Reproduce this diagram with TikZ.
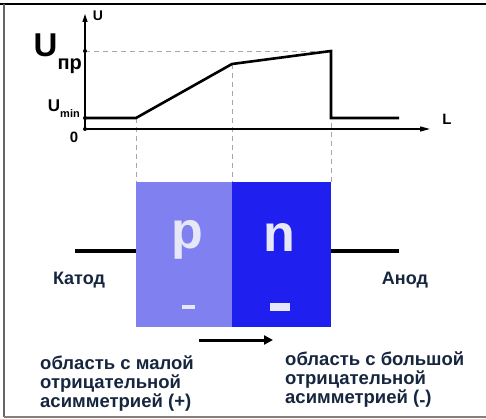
\documentclass[tikz,border=0pt]{standalone}
\usepackage{fontspec}
\setmainfont{Liberation Sans}
\usetikzlibrary{arrows.meta}
\definecolor{txt}{HTML}{16263F}
\definecolor{pcol}{HTML}{8080F0}
\definecolor{ncol}{HTML}{1F1FEF}
\definecolor{lett}{HTML}{E6E8F8}
\tikzset{
  lbl/.style={inner sep=0pt},
  bottomtxt/.style={font=\bfseries\fontsize{18.5}{19}\selectfont, text=txt, align=left, anchor=base west, inner sep=0pt},
  curve/.style={line width=2.6pt, line join=miter},
  guide/.style={gray!70, line width=0.6pt, dash pattern=on 5pt off 4pt},
  wire/.style={line width=3.5pt},
  dotm/.style={circle, fill=black, inner sep=0pt, minimum size=4pt},
}
\begin{document}
\begin{tikzpicture}[x=1pt,y=-1pt]
\useasboundingbox (0,0) rectangle (486,419);
\fill[white] (0,0) rectangle (486,419);
% frame
\draw[line width=1.5pt] (0,4) -- (486,4);
\draw[line width=1.2pt, gray!80!black] (4,4) -- (4,417);
\draw[line width=1.2pt, gray] (4,417) -- (486,417);
% named points
\coordinate (O) at (85,129);
\coordinate (ytop) at (85,14);
\coordinate (xend) at (430,129);
\coordinate (a) at (85,118);
\coordinate (b) at (136,118);
\coordinate (c) at (232,64);
\coordinate (d) at (331,51);
\coordinate (e) at (331,118);
\coordinate (f) at (399,118);
\coordinate (yu) at (85,51);
% guides
\draw[guide] (yu) -- (d);
\draw[guide] (b) -- (136,182);
\draw[guide] (c) -- (232,182);
\draw[guide] (d) -- (331,182);
% axes
\draw[line width=1.3pt, -{Triangle[length=8pt,width=5pt]}] (O) -- (ytop);
\draw[line width=1.3pt, -{Triangle[length=10pt,width=5pt]}] (O) -- (xend);
\node[dotm] at (yu) {};
\node[dotm] at (a) {};
\node[dotm] at (O) {};
% curve
\draw[curve] (a) -- (b) -- (c) -- (d) -- (e) -- (f);
% labels
\node[lbl, font=\bfseries\fontsize{14}{16}\selectfont] (uax) at (98,16) {U};
\node[lbl, font=\bfseries\fontsize{15}{16}\selectfont] (lax) at (447,119) {L};
\node[lbl, font=\bfseries\fontsize{15}{16}\selectfont] (zero) at (74,137) {0};
\node[inner sep=0pt, anchor=base east] (upr) at (82,57)
  {\bfseries\fontsize{33}{33}\selectfont U\raisebox{-13pt}{\fontsize{20}{20}\selectfont пр}};
\node[inner sep=0pt, anchor=base east] (umin) at (80,112)
  {\bfseries\fontsize{17}{17}\selectfont U\raisebox{-6pt}{\fontsize{11}{11}\selectfont min}};
% pn block
\fill[pcol] (136,182) rectangle (232,327);
\fill[ncol] (232,182) rectangle (331,327);
\node[inner sep=0pt, text=lett, font=\bfseries\fontsize{52}{52}\selectfont] (p) at (187,239.5) {p};
\node[inner sep=0pt, text=lett, font=\bfseries\fontsize{52}{52}\selectfont] (n) at (279,237.5) {n};
\fill[lett] (182,305) rectangle (195,309);
\fill[lett] (270,303) rectangle (290,311);
% wires
\coordinate (wl) at (75,251);
\coordinate (wr) at (399,251);
\draw[wire] (wl) -- (136,251);
\draw[wire] (331,251) -- (wr);
\node[lbl, text=txt, font=\bfseries\fontsize{18}{20}\selectfont] (kat) at (79,280) {Катод};
\node[lbl, text=txt, font=\bfseries\fontsize{18}{20}\selectfont] (an) at (405,280) {Анод};
% arrow
\coordinate (arS) at (199,340);
\coordinate (arE) at (273,340);
\draw[line width=3pt, -{Triangle[length=9pt,width=9pt]}] (arS) -- (arE);
% bottom texts
\node[bottomtxt] (lt) at (40,407) {область с малой\\отрицательной\\асимметрией (+)};
\node[bottomtxt] (rt) at (285,403) {область с большой\\отрицательной\\асимметрией (\raisebox{-3pt}{-})};
\end{tikzpicture}
\end{document}
